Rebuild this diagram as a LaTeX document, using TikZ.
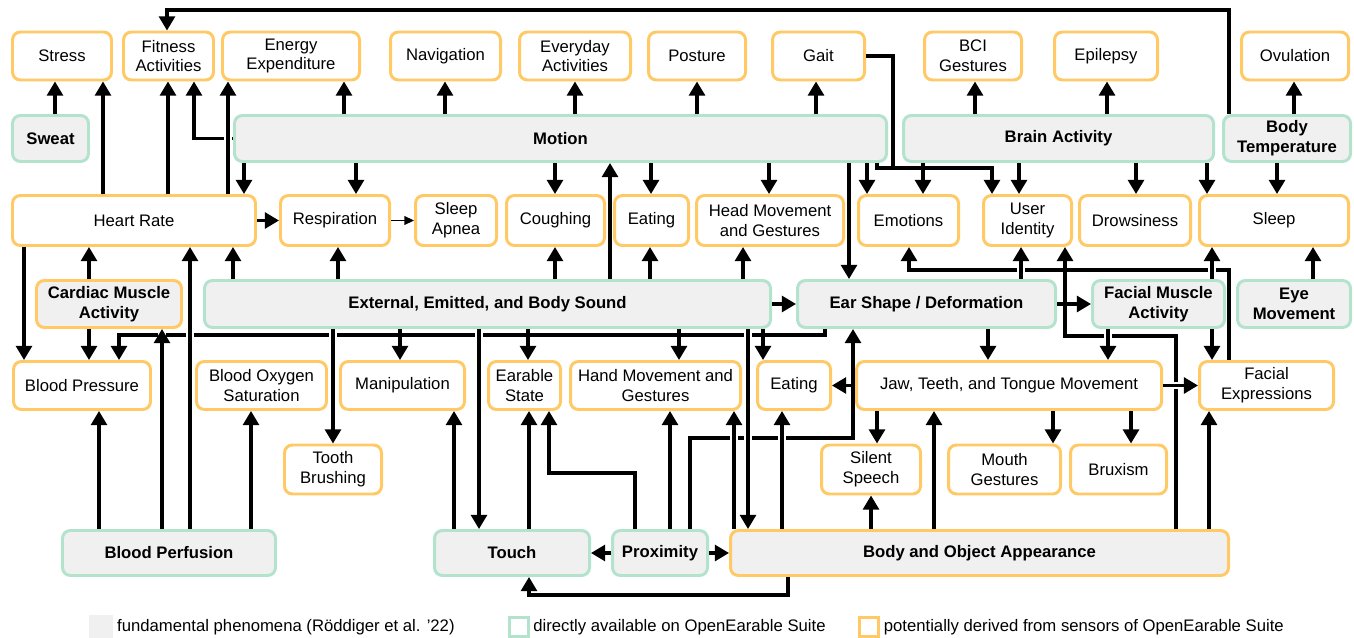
\documentclass[tikz,border=0pt]{standalone}
\usepackage{fontspec}
\setmainfont{Liberation Sans}
\usetikzlibrary{arrows.meta}
\definecolor{derivedc}{HTML}{FFC966}
\definecolor{directc}{HTML}{B3E2CD}
\definecolor{phenomc}{HTML}{F0F0F0}
\newlength{\px}
\setlength{\px}{0.02cm}

\begin{document}
\begin{tikzpicture}[x=0.02cm, y=-0.02cm,
  box/.style={rounded corners=4.5pt, line width=1.7pt, align=center, inner sep=1pt, minimum height=48\px, font=\fontsize{9.5}{11.3}\selectfont},
  derived/.style={box, draw=derivedc, fill=white},
  direct/.style={box, draw=directc, fill=phenomc, font=\fontsize{9.5}{11.3}\selectfont\bfseries},
  sensed/.style={box, draw=derivedc, fill=phenomc, font=\fontsize{9.5}{11.3}\selectfont\bfseries},
  arr/.style={-{Triangle[length=8pt,width=9pt]}, line width=1.8pt},
  thinarr/.style={-{Triangle[length=5.5pt,width=5pt]}, line width=0.9pt},
  wire/.style={line width=1.8pt},
  hop/.style={preaction={draw=white, arrows=-, line width=4.2pt, shorten <=2pt, shorten >=2pt}},
  legtext/.style={anchor=west, inner sep=2pt, font=\fontsize{9.5}{11.3}\selectfont}]

\useasboundingbox (0,0) rectangle (1354,638);

\node[derived, minimum width=99\px] (stress) at (62,56) {Stress};
\node[derived, minimum width=90\px] (fitness) at (168.5,56) {Fitness\\Activities};
\node[derived, minimum width=137\px] (energy) at (291,56) {Energy\\Expenditure};
\node[derived, minimum width=110\px] (navig) at (445.5,56) {Navigation};
\node[derived, minimum width=111\px] (everyday) at (575,56) {Everyday\\Activities};
\node[derived, minimum width=97\px] (posture) at (697,56) {Posture};
\node[derived, minimum width=92\px] (gait) at (818.5,56) {Gait};
\node[derived, minimum width=97\px] (bci) at (973,56) {BCI\\Gestures};
\node[derived, minimum width=103\px] (epilepsy) at (1106,56) {Epilepsy};
\node[derived, minimum width=107\px] (ovul) at (1295,56) {Ovulation};

\node[direct, minimum width=76\px, minimum height=46\px] (sweat) at (50.5,138.5) {Sweat};
\node[direct, minimum width=652\px, minimum height=46\px] (motion) at (560.5,138.5) {Motion};
\node[direct, minimum width=310\px, minimum height=46\px] (brain) at (1058.5,138.5) {Brain Activity};
\node[direct, minimum width=127\px, minimum height=46\px] (bodytemp) at (1287,138.5) {Body\\Temperature};

\node[derived, minimum width=243\px, minimum height=50\px] (heart) at (134,220.5) {Heart Rate};
\node[derived, minimum width=109\px, minimum height=50\px] (resp) at (335,220.5) {Respiration};
\node[derived, minimum width=81\px, minimum height=50\px] (apnea) at (456,220.5) {Sleep\\Apnea};
\node[derived, minimum width=98\px, minimum height=50\px] (cough) at (555.5,220.5) {Coughing};
\node[derived, minimum width=74\px, minimum height=50\px] (eattop) at (651.5,220.5) {Eating};
\node[derived, minimum width=147\px, minimum height=50\px] (headmov) at (770,220.5) {Head Movement\\and Gestures};
\node[derived, minimum width=100\px, minimum height=50\px] (emotion) at (908.5,220.5) {Emotions};
\node[derived, minimum width=88\px, minimum height=50\px] (userid) at (1027.5,220.5) {User\\Identity};
\node[derived, minimum width=111\px, minimum height=50\px] (drowsy) at (1135,220.5) {Drowsiness};
\node[derived, minimum width=149\px, minimum height=50\px] (sleep) at (1274,220.5) {Sleep};

\node[sensed, minimum width=145\px, minimum height=47\px] (cardiac) at (109,304) {Cardiac Muscle\\Activity};
\node[direct, minimum width=566\px, minimum height=47\px] (sound) at (487.5,304) {External, Emitted, and Body Sound};
\node[direct, minimum width=258\px, minimum height=47\px] (earshape) at (926.5,304) {Ear Shape / Deformation};
\node[direct, minimum width=132\px, minimum height=47\px] (facmuscle) at (1158.5,304) {Facial Muscle\\Activity};
\node[direct, minimum width=113\px, minimum height=47\px] (eyemov) at (1294,304) {Eye\\Movement};

\node[derived, minimum width=137\px] (bloodpr) at (82,385.5) {Blood Pressure};
\node[derived, minimum width=130\px] (oxygen) at (261.5,385.5) {Blood Oxygen\\Saturation};
\node[derived, minimum width=124\px] (manip) at (402.5,385.5) {Manipulation};
\node[derived, minimum width=72\px] (earstate) at (524.5,385.5) {Earable\\State};
\node[derived, minimum width=170\px] (handmov) at (655.5,385.5) {Hand Movement and\\Gestures};
\node[derived, minimum width=73\px] (eatlow) at (794,385.5) {Eating};
\node[derived, minimum width=305\px] (jaw) at (1009,385.5) {Jaw, Teeth, and Tongue Movement};
\node[derived, minimum width=134\px] (facexpr) at (1266.5,385.5) {Facial\\Expressions};

\node[derived, minimum width=97\px, minimum height=49\px] (tooth) at (333,469.5) {Tooth\\Brushing};
\node[derived, minimum width=99\px, minimum height=49\px] (silent) at (871,469.5) {Silent\\Speech};
\node[derived, minimum width=112\px, minimum height=49\px] (mouth) at (1004.5,469.5) {Mouth\\Gestures};
\node[derived, minimum width=96\px, minimum height=49\px] (bruxism) at (1118.5,469.5) {Bruxism};

\node[direct, minimum width=213\px, minimum height=45\px] (perfusion) at (169,553) {Blood Perfusion};
\node[direct, minimum width=155\px, minimum height=45\px] (touch) at (512,553) {Touch};
\node[direct, minimum width=95\px, minimum height=45\px] (proximity) at (660,553) {Proximity};
\node[sensed, minimum width=498\px, minimum height=45\px] (appear) at (979.5,553) {Body and Object Appearance};

\draw[arr] (55,0 |- sweat.north) -- (55,0 |- stress.south);
\draw[arr] (103,0 |- heart.north) -- (103,0 |- stress.south);
\draw[arr] (168,0 |- heart.north) -- (168,0 |- fitness.south);
\draw[arr] (motion.west) -| (194,0 |- fitness.south);
\draw[arr] (1229,0 |- bodytemp.north) |- (167,10) -- (167,0 |- fitness.north);
\draw[arr] (344,0 |- motion.north) -- (344,0 |- energy.south);
\draw[arr] (445,0 |- motion.north) -- (445,0 |- navig.south);
\draw[arr] (575,0 |- motion.north) -- (575,0 |- everyday.south);
\draw[arr] (697,0 |- motion.north) -- (697,0 |- posture.south);
\draw[arr] (816,0 |- motion.north) -- (816,0 |- gait.south);
\draw[arr] (975,0 |- brain.north) -- (975,0 |- bci.south);
\draw[arr] (1107,0 |- brain.north) -- (1107,0 |- epilepsy.south);
\draw[arr] (1294,0 |- bodytemp.north) -- (1294,0 |- ovul.south);

\draw[arr] (244,0 |- motion.south) -- (244,0 |- heart.north);
\draw[arr] (356,0 |- motion.south) -- (356,0 |- resp.north);
\draw[arr] (555,0 |- motion.south) -- (555,0 |- cough.north);
\draw[arr] (651,0 |- motion.south) -- (651,0 |- eattop.north);
\draw[arr] (769,0 |- motion.south) -- (769,0 |- headmov.north);
\draw[arr] (849,0 |- motion.south) -- (849,0 |- earshape.north);
\draw[arr] (867,0 |- motion.south) -- (867,0 |- emotion.north);
\draw[arr] (877,0 |- motion.south) |- (992,168) -- (992,0 |- userid.north);
\coordinate (gaitjoin) at (893,168);
\draw[wire] (gait.east) -| (gaitjoin);
\draw[arr] (923,0 |- brain.south) -- (923,0 |- emotion.north);
\draw[arr] (1019,0 |- brain.south) -- (1019,0 |- userid.north);
\draw[arr] (1136,0 |- brain.south) -- (1136,0 |- drowsy.north);
\draw[arr] (1207,0 |- brain.south) -- (1207,0 |- sleep.north);
\draw[arr] (1277,0 |- bodytemp.south) -- (1277,0 |- sleep.north);

\draw[arr] (heart.east) -- (resp.west);
\draw[thinarr] (resp.east) -- (apnea.west);

\draw[arr] (89,0 |- cardiac.north) -- (89,0 |- heart.south);
\draw[arr] (233,0 |- sound.north) -- (233,0 |- heart.south);
\draw[arr] (338,0 |- sound.north) -- (338,0 |- resp.south);
\draw[arr] (555,0 |- sound.north) -- (555,0 |- cough.south);
\draw[arr] (610,0 |- sound.north) -- (610,0 |- motion.south);
\draw[arr] (650,0 |- sound.north) -- (650,0 |- eattop.south);
\draw[arr] (743,0 |- sound.north) -- (743,0 |- headmov.south);
\draw[arr] (1176,0 |- appear.north) |- (1065,336) -- (1065,0 |- userid.south);
\draw[arr] (1229,0 |- facexpr.north) |- (909,270) -- (909,0 |- emotion.south);
\draw[arr] (1313,0 |- eyemov.north) -- (1313,0 |- sleep.south);

\draw[arr] (sound.east) -- (earshape.west);
\draw[arr] (earshape.east) -- (facmuscle.west);

\draw[arr] (24,0 |- heart.south) -- (24,0 |- bloodpr.north);
\draw[arr] (89,0 |- cardiac.south) -- (89,0 |- bloodpr.north);
\draw[arr] (825,0 |- earshape.south) |- (119,335) -- (119,0 |- bloodpr.north);
\draw[arr] (400,0 |- sound.south) -- (400,0 |- manip.north);
\draw[arr] (528,0 |- sound.south) -- (528,0 |- earstate.north);
\draw[arr] (679,0 |- sound.south) -- (679,0 |- handmov.north);
\draw[arr] (763,0 |- sound.south) -- (763,0 |- eatlow.north);
\draw[arr] (988,0 |- earshape.south) -- (988,0 |- jaw.north);
\draw[arr] (1212,0 |- facmuscle.south) -- (1212,0 |- facexpr.north);

\draw[arr] (jaw.west) -- (eatlow.east);
\draw[arr] (99,0 |- perfusion.north) -- (99,0 |- bloodpr.south);
\draw[arr] (251,0 |- perfusion.north) -- (251,0 |- oxygen.south);
\draw[arr] (454,0 |- touch.north) -- (454,0 |- manip.south);
\draw[arr] (529,0 |- touch.north) -- (529,0 |- earstate.south);
\draw[arr] (635,0 |- proximity.north) |- (549,473) -- (549,0 |- earstate.south);
\draw[arr] (670,0 |- proximity.north) -- (670,0 |- handmov.south);
\draw[arr] (690,0 |- proximity.north) |- (853,438) -- (853,0 |- earshape.south);
\draw[arr] (871,0 |- appear.north) -- (871,0 |- silent.south);
\draw[arr] (934,0 |- appear.north) -- (934,0 |- jaw.south);
\draw[arr] (1209,0 |- appear.north) -- (1209,0 |- facexpr.south);
\draw[arr] (877,0 |- jaw.south) -- (877,0 |- silent.north);
\draw[arr] (1053,0 |- jaw.south) -- (1053,0 |- mouth.north);
\draw[arr] (1131,0 |- jaw.south) -- (1131,0 |- bruxism.north);
\draw[arr] (proximity.west) -- (touch.east);
\draw[arr] (proximity.east) -- (appear.west);
\draw[arr] (788,0 |- appear.south) |- (529,595) -- (529,0 |- touch.south);

\draw[arr,hop] (228,0 |- heart.north) -- (228,0 |- energy.south);
\draw[arr,hop] (162,0 |- perfusion.north) -- (162,0 |- cardiac.south);
\draw[arr,hop] (190,0 |- perfusion.north) -- (190,0 |- heart.south);
\draw[arr,hop] (333,0 |- sound.south) -- (333,0 |- tooth.north);
\draw[arr,hop] (479,0 |- sound.south) -- (479,0 |- touch.north);
\draw[arr,hop] (748,0 |- sound.south) -- (748,0 |- appear.north);
\draw[arr,hop] (734,0 |- appear.north) -- (734,0 |- handmov.south);
\draw[arr,hop] (782,0 |- appear.north) -- (782,0 |- eatlow.south);
\draw[arr,hop] (1021,0 |- earshape.north) -- (1021,0 |- userid.south);
\draw[arr,hop] (1212,0 |- facmuscle.north) -- (1212,0 |- sleep.south);
\draw[arr,hop] (1108,0 |- facmuscle.south) -- (1108,0 |- jaw.north);
\draw[arr,hop] (jaw.east) -- (facexpr.west);

\node[fill=phenomc, inner sep=0, minimum size=24\px] (legfund) at (101,627) {};
\node[legtext] (legfundtxt) at (legfund.east) {fundamental phenomena (Röddiger et al. ’22)};
\node[draw=directc, line width=1.7pt, inner sep=0, minimum size=19\px] (legdirect) at (518.5,627) {};
\node[legtext] (legdirecttxt) at (legdirect.east) {directly available on OpenEarable Suite};
\node[draw=derivedc, line width=1.7pt, inner sep=0, minimum size=19\px] (legderived) at (869,627) {};
\node[legtext] (legderivedtxt) at (legderived.east) {potentially derived from sensors of OpenEarable Suite};
\end{tikzpicture}
\end{document}
